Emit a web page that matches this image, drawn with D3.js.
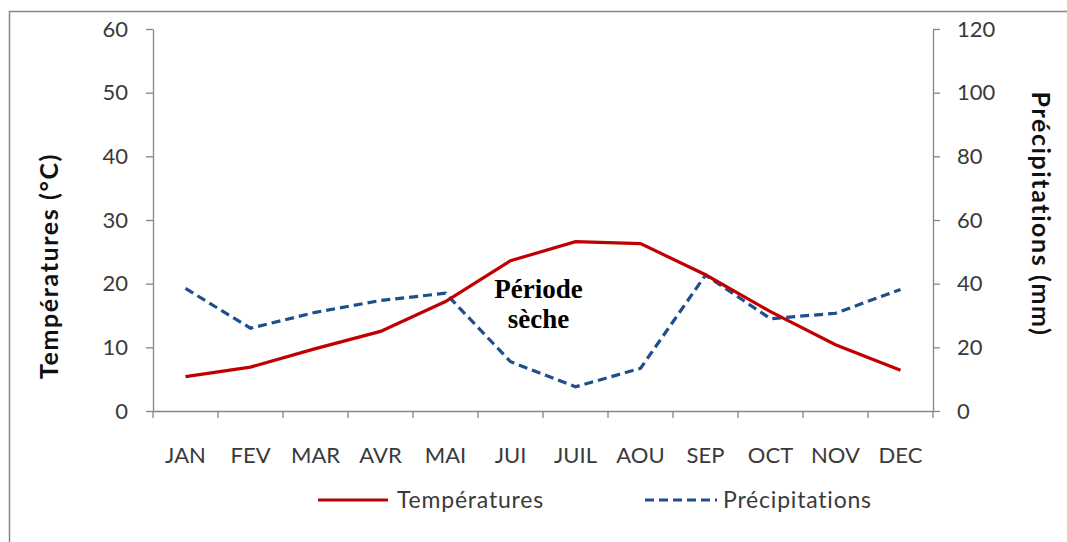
<!DOCTYPE html>
<html>
<head>
<meta charset="utf-8">
<script src="https://cdn.jsdelivr.net/npm/d3@7"></script>
<style>
  html, body { margin: 0; padding: 0; background: #fff; }
  svg { display: block; }
</style>
</head>
<body>
<svg id="chart" width="1067" height="542"></svg>
<script>
const months = ["JAN","FEV","MAR","AVR","MAI","JUI","JUIL","AOU","SEP","OCT","NOV","DEC"];
const temperatures = [5.4, 6.9, 9.8, 12.5, 17.2, 23.6, 26.6, 26.3, 21.4, 15.6, 10.4, 6.4];
const precipitations = [38.5, 26, 31, 34.7, 37, 15.5, 7.6, 13.4, 42.7, 29, 30.7, 38.2];
const tempTicks = [0, 10, 20, 30, 40, 50, 60];
const precTicks = [0, 20, 40, 60, 80, 100, 120];
const seriesNames = ["Températures", "Précipitations"];
const annotation = ["Période", "sèche"];

(function () {
const svg = d3.select("#chart");
const FONT = "Lato, 'Open Sans', sans-serif";
const AX = "#868686";
const TXT = "#3a3a3a";
const RED = "#c00000";
const BLUE = "#1f4e8c";

// outer border
svg.append("rect").attr("x", 9.5).attr("y", 11.5).attr("width", 1080).attr("height", 560)
  .attr("fill", "#fff").attr("stroke", "#888").attr("stroke-width", 1.5);

const pL = 153, pR = 933, pT = 29, pB = 411;
const x = d3.scaleBand().domain(months).range([pL, pR]);
const yL = d3.scaleLinear().domain([0, 60]).range([pB, pT]);
const yR = d3.scaleLinear().domain([0, 120]).range([pB, pT]);
const cx = m => x(m) + x.bandwidth() / 2;

// left axis
const gL = svg.append("g").attr("transform", `translate(${pL},0)`)
  .call(d3.axisLeft(yL).tickValues(tempTicks).tickSizeInner(7).tickSizeOuter(0).tickPadding(18));
// right axis
const gR = svg.append("g").attr("transform", `translate(${pR},0)`)
  .call(d3.axisRight(yR).tickValues(precTicks).tickSizeInner(7).tickSizeOuter(0).tickPadding(17));
// bottom axis (labels)
const gB = svg.append("g").attr("transform", `translate(0,${pB})`)
  .call(d3.axisBottom(x).tickSizeInner(0).tickSizeOuter(0).tickPadding(36));
// category boundary ticks
const bounds = months.map(m => x(m)).concat([x.range()[1]]);
gB.selectAll("line.bound").data(bounds).enter().append("line").attr("class", "bound")
  .attr("x1", d => d).attr("x2", d => d).attr("y1", 0).attr("y2", 7);

[gL, gR, gB].forEach(g => {
  g.selectAll("path.domain").attr("stroke", AX).attr("stroke-width", 1.3);
  g.selectAll("line").attr("stroke", AX).attr("stroke-width", 1.3);
  g.selectAll("text").attr("fill", TXT).style("font-family", FONT).style("font-size", "22px");
});

// axis titles
svg.append("text").attr("transform", "translate(58,266) rotate(-90)")
  .attr("text-anchor", "middle").style("font-family", FONT).style("font-size", "25px")
  .style("letter-spacing", "1.6px")
  .style("font-weight", "bold").attr("fill", "#111").text("Températures (°C)");
svg.append("text").attr("transform", "translate(1032,214) rotate(90)")
  .attr("text-anchor", "middle").style("font-family", FONT).style("font-size", "25px")
  .style("letter-spacing", "1.6px")
  .style("font-weight", "bold").attr("fill", "#111").text("Précipitations (mm)");

// precipitation line (dashed)
const linePrec = d3.line().x((d, i) => cx(months[i])).y(d => yR(d));
svg.append("path").datum(precipitations).attr("d", linePrec)
  .attr("fill", "none").attr("stroke", BLUE).attr("stroke-width", 3.2)
  .attr("stroke-dasharray", "9,5");

// annotation box
svg.append("rect").attr("x", 487).attr("y", 273).attr("width", 106).attr("height", 64).attr("fill", "#fff");

// temperature line
const lineTemp = d3.line().x((d, i) => cx(months[i])).y(d => yL(d));
svg.append("path").datum(temperatures).attr("d", lineTemp)
  .attr("fill", "none").attr("stroke", RED).attr("stroke-width", 3.2);

// annotation text
svg.append("text").attr("text-anchor", "middle")
  .style("font-family", "'Liberation Serif', 'Times New Roman', serif")
  .style("font-size", "27px").style("font-weight", "bold").attr("fill", "#000")
  .selectAll("tspan").data(annotation).enter().append("tspan")
  .attr("x", 538.5).attr("y", (d, i) => 298 + i * 30).text(d => d);

// legend
const legend = [
  { name: seriesNames[0], color: RED, dash: null, x1: 318, x2: 388, tx: 397 },
  { name: seriesNames[1], color: BLUE, dash: "9,5", x1: 645, x2: 717, tx: 723 }
];
const lg = svg.append("g");
legend.forEach(l => {
  lg.append("line").attr("x1", l.x1).attr("x2", l.x2).attr("y1", 500).attr("y2", 500)
    .attr("stroke", l.color).attr("stroke-width", 3.2).attr("stroke-dasharray", l.dash);
  lg.append("text").attr("x", l.tx).attr("y", 508).attr("fill", TXT)
    .style("font-family", FONT).style("font-size", "23px").style("letter-spacing", "0.8px")
    .text(l.name);
});
})();
</script>
</body>
</html>
